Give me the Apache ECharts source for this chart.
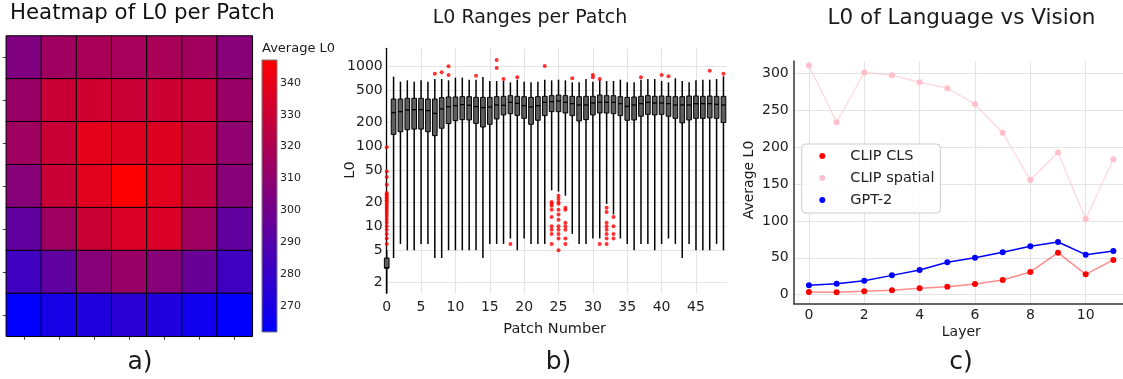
<!DOCTYPE html>
<html><head><meta charset="utf-8">
<script src="https://cdn.jsdelivr.net/npm/echarts@6/dist/echarts.min.js"></script>
<style>html,body{margin:0;padding:0;background:#fff}#c{width:1123px;height:379px}</style>
</head><body><div id="c"></div><script>
// ---------- a) heatmap ----------
const heatCols = ['0','1','2','3','4','5','6'];
const heatRows = ['0','1','2','3','4','5','6'];
const heatValues = [
  [304, 315, 318, 317, 318, 316, 307],
  [313, 329, 331, 329, 330, 329, 313],
  [315, 329, 338, 336, 336, 329, 310],
  [307, 329, 337, 347, 337, 326, 307],
  [294, 315, 329, 334, 334, 315, 294],
  [283, 294, 307, 313, 307, 297, 283],
  [262, 270, 273, 276, 273, 267, 262]
];
const colorbarMin = 261.8, colorbarMax = 347.2;
const colorbarTicks = [270, 280, 290, 300, 310, 320, 330, 340];

// ---------- b) box plot ----------
const patchNumbers = Array.from({length: 50}, (_, i) => i);
const whiskerLow = [1,4,6,5,5,6,6,4,4,5, 5,5,5,5,4,6,6,6,7,5, 7,6,6,6,28,27,24,8,6,6, 7,7,19,14,7,6,5,6,6,5, 6,7,6,4,6,5,5,5,6,5];
const q1 = [3,140,151,160,163,163,151,135,167,191, 208,214,212,192,173,187,218,245,254,242, 222,187,210,240,269,269,259,240,206,214, 245,259,259,254,240,210,212,236,249,245, 249,236,222,195,212,222,222,225,222,197];
const median = [3,261,269,282,285,285,277,256,291,311, 320,329,323,311,302,308,326,323,352,342, 320,308,320,352,359,365,352,339,326,326, 345,352,352,352,339,314,326,339,352,345, 345,339,326,326,326,339,339,339,332,326];
const q3 = [4,387,387,395,395,395,387,387,402,410, 410,414,414,406,406,406,414,418,426,418, 414,406,414,418,426,434,426,418,414,418, 418,434,426,426,414,406,410,418,426,418, 422,418,414,414,422,422,418,422,418,418];
const whiskerHigh = [5,736,637,662,637,662,637,688,688,662, 715,715,675,675,729,650,650,650,625,675, 637,625,637,675,662,675,662,625,625,688, 637,675,650,650,675,625,625,675,688,688, 650,625,702,650,625,662,675,675,688,744];
const outlierPatch = [
  0,0,0,0,0,0,0,0,0,0,0,0,0,0,0,0,0,0,0,0,0,0,0,0,0,
  7,8,9,9,13,16,16,17,18,19,23,
  24,24,24,24,24,24,24,24,24,
  25,25,25,25,25,25,25,25,25,25,25,25,
  26,26,26,26,26,26,26,
  27,30,30,31,31,
  32,32,32,32,32,32,32,32,
  33,33,33,33,
  37,40,41,47,49
];
const outlierValue = [
  97,48,41,33,26,25,24,23,22,21,20,19,18,17,16,15,14,13,12,11,10,9,8,7,6,
  802,834,990,772,757,1188,944,688,6,722,1000,
  20,19,18,16,13,10,9,8,6,
  24,22,20,19,16,14,12,10,9,8,7,5,
  17,16,11,10,9,7,6,
  702,772,722,688,6,
  17,15,11,10,9,8,7,6,
  13,10,8,7,
  722,772,745,874,802
];
const boxYMin = 1.45, boxYMax = 1664;
const boxYTicks = [2, 5, 10, 20, 50, 100, 200, 500, 1000];
const patchTicks = [0, 5, 10, 15, 20, 25, 30, 35, 40, 45];

// ---------- c) line chart ----------
const layers = [0,1,2,3,4,5,6,7,8,9,10,11];
const clipCls = [3.6, 3.2, 4.5, 5.9, 8.6, 10.9, 14.5, 19.9, 30.8, 57.0, 27.6, 47.1];
const clipSpatial = [310.9, 233.9, 301.4, 297.7, 288.2, 280.1, 258.4, 219.5, 155.7, 192.8, 102.7, 183.7];
const gpt2 = [12.7, 14.9, 19.0, 26.2, 33.5, 43.9, 50.2, 57.5, 65.6, 71.5, 54.3, 59.3];
const layerTicks = [0, 2, 4, 6, 8, 10];
const avgTicks = [0, 50, 100, 150, 200, 250, 300];

// ---------- build ----------
const FONT = 'DejaVu Sans';
const lg = v => Math.log10(v);
const heatData = [];
heatValues.forEach((row, r) => row.forEach((v, c) => heatData.push([c, r, v])));
const boxData = patchNumbers.map((p, i) => [p, lg(whiskerLow[i]), lg(q1[i]), lg(median[i]), lg(q3[i]), lg(whiskerHigh[i])]);
const outlierData = outlierPatch.map((p, i) => [p, lg(outlierValue[i])]);
const pair = arr => layers.map((l, i) => [l, arr[i]]);

const gridCol = '#e4e4e4';

function renderBox(params, api) {
  const x = api.value(0);
  const half = api.size([0.68, 0])[0] / 2;
  const cs = params.coordSys;
  const bottom = cs.y + cs.height;
  const pLo = api.coord([x, api.value(1)]);
  const pQ1 = api.coord([x, api.value(2)]);
  const pMd = api.coord([x, api.value(3)]);
  const pQ3 = api.coord([x, api.value(4)]);
  const pHi = api.coord([x, api.value(5)]);
  const cx = pQ1[0];
  return {
    type: 'group',
    children: [
      {type: 'line', shape: {x1: cx, y1: Math.min(pLo[1], bottom), x2: cx, y2: pQ1[1]}, style: {stroke: '#000', lineWidth: 1.5}},
      {type: 'line', shape: {x1: cx, y1: pQ3[1], x2: cx, y2: pHi[1]}, style: {stroke: '#000', lineWidth: 1.5}},
      {type: 'rect', shape: {x: cx - half, y: pQ3[1], width: 2 * half, height: pQ1[1] - pQ3[1]}, style: {fill: '#5e5e5e', stroke: '#000', lineWidth: 1}},
      {type: 'line', shape: {x1: cx - half, y1: pMd[1], x2: cx + half, y2: pMd[1]}, style: {stroke: '#000', lineWidth: 1.3}}
    ]
  };
}

function renderColorbar(params, api) {
  const p0 = api.coord([0, api.value(1)]);
  const p1 = api.coord([1, api.value(2)]);
  return {
    type: 'rect',
    shape: {x: p0[0], y: p1[1], width: p1[0] - p0[0], height: p0[1] - p1[1]},
    style: {
      fill: new echarts.graphic.LinearGradient(0, 0, 0, 1, [{offset: 0, color: '#ff0000'}, {offset: 1, color: '#0000ff'}]),
      stroke: '#7a7a7a', lineWidth: 1
    }
  };
}

const txt = (text, x, y, size, opts) => Object.assign({
  type: 'text', x: x, y: y, silent: true,
  style: {text: text, font: size + 'px "' + FONT + '"', fill: '#1a1a1a', textAlign: 'center', textVerticalAlign: 'middle'}
}, opts || {});

const option = {
  animation: false,
  backgroundColor: '#fff',
  textStyle: {fontFamily: FONT},
  grid: [
    {left: 6.3, top: 36, width: 246, height: 300.3, outerBoundsMode: 'none'},
    {left: 262, top: 60, width: 15, height: 272, outerBoundsMode: 'none'},
    {left: 386.7, top: 48.3, width: 340.2, height: 245, outerBoundsMode: 'none'},
    {left: 793.7, top: 61, width: 334.9, height: 242.3, outerBoundsMode: 'none'}
  ],
  xAxis: [
    {gridIndex: 0, type: 'category', data: heatCols, axisLine: {show: false},
      axisTick: {show: true, alignWithLabel: true, length: 3.5, lineStyle: {color: '#444'}},
      axisLabel: {show: false}, splitLine: {show: false}},
    {gridIndex: 1, type: 'value', min: 0, max: 1, show: false},
    {gridIndex: 2, type: 'value', min: 0, max: 49.5,
      axisLine: {show: false}, axisTick: {show: false, customValues: patchTicks},
      axisLabel: {customValues: patchTicks, fontSize: 14, color: '#222', fontFamily: FONT, margin: 7},
      splitLine: {show: true, lineStyle: {color: gridCol, width: 1.2}}},
    {gridIndex: 3, type: 'value', min: -0.55, max: 11.55,
      axisLine: {show: true, onZero: false, lineStyle: {color: '#333', width: 1.5}},
      axisTick: {show: false, customValues: layerTicks},
      axisLabel: {customValues: layerTicks, fontSize: 14, color: '#222', fontFamily: FONT, margin: 5},
      splitLine: {show: true, lineStyle: {color: gridCol, width: 1.2}}}
  ],
  yAxis: [
    {gridIndex: 0, type: 'category', data: heatRows, inverse: true, axisLine: {show: false},
      axisTick: {show: true, alignWithLabel: true, length: 3.5, lineStyle: {color: '#444'}},
      axisLabel: {show: false}, splitLine: {show: false}},
    {gridIndex: 1, type: 'value', min: colorbarMin, max: colorbarMax, position: 'right',
      axisLine: {show: false}, axisTick: {show: false, customValues: colorbarTicks},
      axisLabel: {customValues: colorbarTicks, fontSize: 11, color: '#222', fontFamily: FONT, margin: 3},
      splitLine: {show: false}},
    {gridIndex: 2, type: 'value', min: lg(boxYMin), max: lg(boxYMax),
      axisLine: {show: true, onZero: false, lineStyle: {color: '#000', width: 1.3}},
      axisTick: {show: false, customValues: boxYTicks.map(lg)},
      axisLabel: {customValues: boxYTicks.map(lg), formatter: v => String(Math.round(Math.pow(10, v))),
        fontSize: 14, color: '#222', fontFamily: FONT, margin: 4},
      splitLine: {show: true, lineStyle: {color: gridCol, width: 1.2}}},
    {gridIndex: 3, type: 'value', min: -11.7, max: 317,
      axisLine: {show: true, onZero: false, lineStyle: {color: '#333', width: 1.5}},
      axisTick: {show: false, customValues: avgTicks},
      axisLabel: {customValues: avgTicks, fontSize: 14, color: '#222', fontFamily: FONT, margin: 5},
      splitLine: {show: true, lineStyle: {color: gridCol, width: 1.2}}}
  ],
  visualMap: {
    show: false, type: 'continuous', seriesIndex: 0, dimension: 2,
    min: colorbarMin, max: colorbarMax, inRange: {color: ['#0000ff', '#ff0000']}
  },
  legend: {
    data: ['CLIP CLS', 'CLIP spatial', 'GPT-2'],
    left: 801.7, top: 144, orient: 'vertical', selectedMode: false,
    icon: 'circle', itemWidth: 6, itemHeight: 6, itemGap: 6,
    padding: [4, 6, 5, 17.6],
    backgroundColor: 'rgba(255,255,255,0.85)', borderColor: '#cccccc', borderWidth: 1, borderRadius: 4,
    textStyle: {fontSize: 14.5, fontFamily: FONT, color: '#222', lineHeight: 16, padding: [0, 0, 0, 20]}
  },
  series: [
    {type: 'heatmap', xAxisIndex: 0, yAxisIndex: 0, data: heatData,
      itemStyle: {borderColor: '#000', borderWidth: 1}},
    {type: 'custom', xAxisIndex: 1, yAxisIndex: 1, data: [[0, colorbarMin, colorbarMax]],
      encode: {x: 0, y: [1, 2]}, renderItem: renderColorbar, silent: true},
    {type: 'custom', name: 'boxes', xAxisIndex: 2, yAxisIndex: 2, data: boxData,
      encode: {x: 0, y: [1, 2, 3, 4, 5]}, renderItem: renderBox, clip: false, z: 3},
    {type: 'scatter', name: 'outliers', xAxisIndex: 2, yAxisIndex: 2, data: outlierData,
      symbol: 'circle', symbolSize: 4, itemStyle: {color: '#ff0000'}, z: 4},
    {type: 'line', name: 'CLIP CLS', xAxisIndex: 3, yAxisIndex: 3, data: pair(clipCls),
      symbol: 'circle', symbolSize: 6, itemStyle: {color: '#ff0000', borderWidth: 0},
      lineStyle: {color: 'rgba(255,0,0,0.45)', width: 1.5}, z: 3},
    {type: 'line', name: 'CLIP spatial', xAxisIndex: 3, yAxisIndex: 3, data: pair(clipSpatial),
      symbol: 'circle', symbolSize: 6, itemStyle: {color: '#ffc0cb', borderWidth: 0},
      lineStyle: {color: 'rgba(255,192,203,0.55)', width: 1.5}, z: 3},
    {type: 'line', name: 'GPT-2', xAxisIndex: 3, yAxisIndex: 3, data: pair(gpt2),
      symbol: 'circle', symbolSize: 6, itemStyle: {color: '#0000ff', borderWidth: 0},
      lineStyle: {color: '#0000ff', width: 1.5}, z: 4}
  ],
  graphic: [
    txt('Heatmap of L0 per Patch', 10, 13, 21.3, {style: {text: 'Heatmap of L0 per Patch', font: '21.3px "DejaVu Sans"', fill: '#111', textAlign: 'left', textVerticalAlign: 'middle'}}),
    txt('Average L0', 262, 48.5, 13, {style: {text: 'Average L0', font: '13px "DejaVu Sans"', fill: '#1a1a1a', textAlign: 'left', textVerticalAlign: 'middle'}}),
    txt('a)', 140, 362, 25),
    txt('L0 Ranges per Patch', 530, 18, 19),
    txt('L0', 350.5, 170, 14.5, {rotation: Math.PI / 2}),
    txt('Patch Number', 554.7, 328.8, 14.5),
    txt('b)', 558.5, 362, 25),
    txt('L0 of Language vs Vision', 961.5, 18.8, 21.5),
    txt('Average L0', 749, 180, 14, {rotation: Math.PI / 2}),
    txt('Layer', 961.3, 332.5, 14),
    txt('c)', 961, 362, 25)
  ]
};
const chart = echarts.init(document.getElementById('c'));
chart.setOption(option);
</script></body></html>
